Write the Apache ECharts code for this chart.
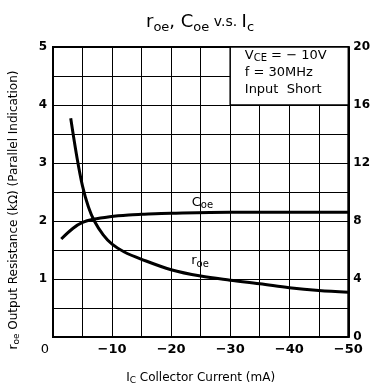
<!DOCTYPE html>
<html>
<head>
<meta charset="utf-8">
<script src="https://cdn.jsdelivr.net/npm/echarts@6/dist/echarts.min.js"></script>
<style>
  html, body { margin: 0; padding: 0; background: #fff; }
  #chart { width: 373px; height: 390px; }
</style>
</head>
<body>
<div id="chart"></div>
<script>
// r_oe (kΩ, left axis) vs Ic (mA)
const roeCurrent = [-3, -4, -5, -6, -7, -8.5, -10, -12, -15, -20, -25, -30, -35, -40, -45, -50];
const roeValues = [3.77, 3.13, 2.6, 2.24, 2.0, 1.76, 1.6, 1.47, 1.34, 1.16, 1.05, 0.98, 0.92, 0.85, 0.8, 0.77];
// C_oe (pF, right axis) vs Ic (mA)
const coeCurrent = [-1.4, -3.4, -5, -6.8, -9.6, -12.8, -15, -20, -30, -40, -50];
const coeValues = [6.76, 7.5, 7.9, 8.12, 8.3, 8.42, 8.46, 8.53, 8.6, 8.6, 8.6];

const xTicks = [0, -10, -20, -30, -40, -50];
const leftTicks = [1, 2, 3, 4, 5];
const rightTicks = [0, 4, 8, 12, 16, 20];

const FONT = "DejaVu Sans";
const chart = echarts.init(document.getElementById("chart"));

const sub = { fontFamily: FONT, fontSize: 10, lineHeight: 10, verticalAlign: "bottom", color: "#000" };

const option = {
  animation: false,
  title: {
    text: "{a|r}{b|oe}{a|, C}{b|oe}{c| v.s. }{a|I}{b|c}",
    left: 141,
    top: 5,
    textStyle: {
      rich: {
        a: { fontFamily: FONT, fontSize: 18, fontWeight: "normal", lineHeight: 24, color: "#000" },
        b: { fontFamily: FONT, fontSize: 13, fontWeight: "normal", lineHeight: 16, verticalAlign: "bottom", color: "#000" },
        c: { fontFamily: FONT, fontSize: 14, fontWeight: "normal", lineHeight: 22, color: "#000" }
      }
    }
  },
  grid: {
    left: 53, right: 23, top: 47, bottom: 50,
    show: true, borderColor: "#000", borderWidth: 2
  },
  xAxis: {
    type: "value",
    min: -50, max: 0, interval: 5,
    inverse: true,
    name: "{s|I}{t|C}{s| Collector Current (mA)}",
    nameLocation: "middle",
    nameGap: 34,
    nameTextStyle: {
      rich: {
        s: { fontFamily: FONT, fontSize: 12, lineHeight: 14, color: "#000" },
        t: { fontFamily: FONT, fontSize: 9, lineHeight: 9, verticalAlign: "bottom", color: "#000" }
      }
    },
    axisLine: { lineStyle: { color: "#000", width: 2 } },
    axisTick: { show: false },
    splitLine: { lineStyle: { color: "#000", width: 1 } },
    axisLabel: {
      margin: 6,
      fontFamily: FONT, fontSize: 13, fontWeight: "bold", color: "#000",
      formatter: v => {
        if (!xTicks.includes(v)) return "";
        return v === 0 ? "{o|0}" : "\u2212" + Math.abs(v);
      },
      rich: { o: { fontFamily: FONT, fontSize: 13, fontWeight: "normal", padding: [0, 16, 0, 0] } }
    }
  },
  yAxis: [
    {
      type: "value",
      min: 0, max: 5, interval: 0.5,
      axisLine: { show: true, lineStyle: { color: "#000", width: 2 } },
      axisTick: { show: false },
      splitLine: { lineStyle: { color: "#000", width: 1 } },
      axisLabel: {
        margin: 6,
        fontFamily: FONT, fontSize: 12, fontWeight: "bold", color: "#000",
        formatter: v => (leftTicks.includes(v) ? String(v) : "")
      }
    },
    {
      type: "value",
      min: 0, max: 20, interval: 2,
      position: "right",
      axisLine: { show: true, lineStyle: { color: "#000", width: 2 } },
      axisTick: { show: false },
      splitLine: { show: false },
      axisLabel: {
        margin: 5,
        fontFamily: FONT, fontSize: 12, fontWeight: "bold", color: "#000",
        formatter: v => (rightTicks.includes(v) ? String(v) : "")
      }
    }
  ],
  graphic: [
    {
      type: "text",
      x: 14, y: 210,
      rotation: Math.PI / 2,
      style: {
        text: "{s|r}{t|oe}{s| Output Resistance (k\u03a9) (Parallel Indication)}",
        align: "center",
        verticalAlign: "middle",
        rich: {
          s: { fontFamily: FONT, fontSize: 12, lineHeight: 14, fill: "#000" },
          t: { fontFamily: FONT, fontSize: 9, lineHeight: 9, verticalAlign: "bottom", fill: "#000" }
        }
      }
    }
  ],
  series: [
    {
      name: "roe",
      type: "line",
      yAxisIndex: 0,
      smooth: 0.35,
      showSymbol: false,
      data: roeCurrent.map((x, i) => [x, roeValues[i]]),
      lineStyle: { color: "#000", width: 3 },
      markPoint: {
        symbol: "circle", symbolSize: 0,
        label: {
          show: true, position: "inside",
          formatter: "{s|r}{t|oe}",
          rich: { s: { fontFamily: FONT, fontSize: 13, lineHeight: 16, color: "#000" }, t: sub }
        },
        data: [{ coord: [-24.9, 1.31] }]
      },
      markArea: {
        silent: true,
        itemStyle: { color: "#fff", borderColor: "#000", borderWidth: 1.5 },
        label: { show: false },
        data: [[{ coord: [-30, 4] }, { coord: [-50, 5] }]]
      }
    },
    {
      name: "Coe",
      type: "line",
      yAxisIndex: 1,
      smooth: 0.35,
      showSymbol: false,
      data: coeCurrent.map((x, i) => [x, coeValues[i]]),
      lineStyle: { color: "#000", width: 3 },
      markPoint: {
        symbol: "circle", symbolSize: 0,
        label: {
          show: true, position: "inside",
          formatter: "{s|C}{t|oe}",
          rich: { s: { fontFamily: FONT, fontSize: 13, lineHeight: 16, color: "#000" }, t: sub }
        },
        data: [
          { coord: [-25.3, 9.28] },
          {
            coord: [-39.4, 18.25],
            label: {
              formatter: "{v|V}{s|CE}{v| = \u2212 10V}\n{v|f = 30MHz}\n{v|Input  Short}",
              rich: {
                v: { fontFamily: FONT, fontSize: 13, lineHeight: 17, color: "#000", align: "left" },
                s: sub
              }
            }
          }
        ]
      }
    }
  ]
};

chart.setOption(option);
</script>
</body>
</html>
